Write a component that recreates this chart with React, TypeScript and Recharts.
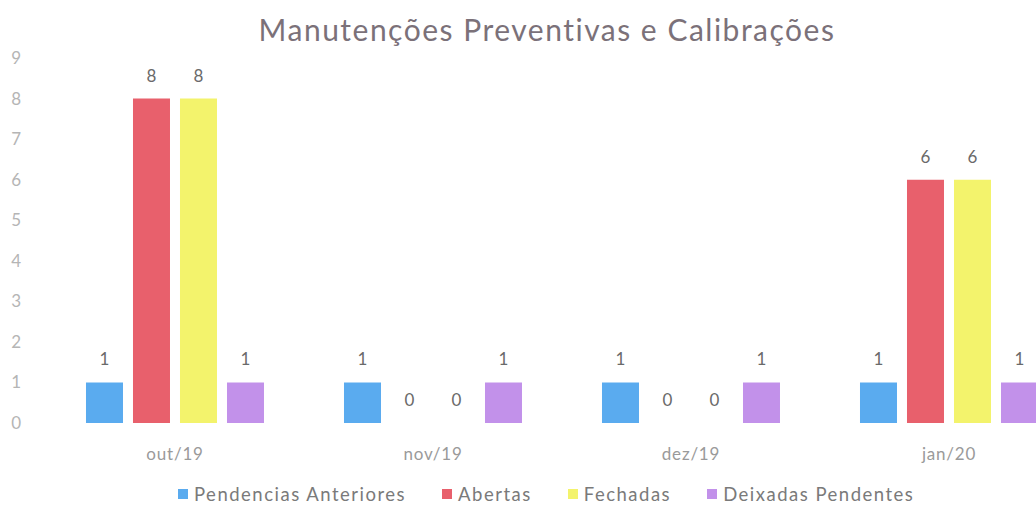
import React from 'react';
import { BarChart, Bar, XAxis, YAxis, Legend, LabelList } from 'recharts';

const months = ['out/19', 'nov/19', 'dez/19', 'jan/20'];
const pendenciasAnteriores = [1, 1, 1, 1];
const abertas = [8, 0, 0, 6];
const fechadas = [8, 0, 0, 6];
const deixadasPendentes = [1, 1, 1, 1];
const yTicks = [0, 1, 2, 3, 4, 5, 6, 7, 8, 9];

const data = months.map((m, i) => ({
  month: m,
  pendencias: pendenciasAnteriores[i],
  abertas: abertas[i],
  fechadas: fechadas[i],
  deixadas: deixadasPendentes[i],
}));

const series = [
  { key: 'pendencias', name: 'Pendencias Anteriores', color: '#5aabef' },
  { key: 'abertas', name: 'Abertas', color: '#e8606c' },
  { key: 'fechadas', name: 'Fechadas', color: '#f3f36c' },
  { key: 'deixadas', name: 'Deixadas Pendentes', color: '#c291ea' },
];

const font = 'Lato, "Open Sans", sans-serif';

// legend drawn by hand so the spacing matches the Excel original
const LegendContent = () => (
  <div style={{ display: 'flex', justifyContent: 'flex-start', paddingLeft: 178, paddingTop: 21, fontFamily: font, fontSize: 18.5, letterSpacing: 1.5, lineHeight: '20px', color: '#7a7a7a' }}>
    {series.map((s) => (
      <div key={s.key} style={{ display: 'flex', alignItems: 'center', marginRight: 36 }}>
        <span style={{ display: 'inline-block', width: 10, height: 10, background: s.color, marginRight: 6 }} />
        <span>{s.name}</span>
      </div>
    ))}
  </div>
);

// zero-value bars get a tiny height so their "0" label is still drawn
const zeroSize = (value: number) => (value === 0 ? 0.01 : 0);

export default function App() {
  return (
    <div style={{ position: 'absolute', left: 0, top: 0, width: 1036, height: 505, overflow: 'hidden', background: '#ffffff' }}>
      <div style={{ position: 'absolute', left: 0, top: 11, width: 1094, textAlign: 'center', fontFamily: font, fontSize: 30, color: '#7b7179', letterSpacing: 1.5 }}>
        Manutenções Preventivas e Calibrações
      </div>
      <BarChart
        width={1100}
        height={505}
        data={data}
        margin={{ top: 58, right: 22, bottom: 0, left: 0 }}
        barCategoryGap="15.5%"
        barGap={10}
      >
        <XAxis
          dataKey="month"
          axisLine={false}
          tickLine={false}
          tickSize={0}
          tickMargin={25}
          height={40}
          tick={{ fill: '#9a9a9a', fontSize: 17, fontFamily: font, letterSpacing: 0.8 }}
        />
        <YAxis
          domain={[0, 9]}
          ticks={yTicks}
          axisLine={false}
          tickLine={false}
          tickSize={0}
          tickMargin={25}
          width={46}
          tick={{ fill: '#b5b5b5', fontSize: 17, fontFamily: font }}
        />
        <Legend verticalAlign="bottom" height={42} content={<LegendContent />} />
        {series.map((s) => (
          <Bar key={s.key} dataKey={s.key} name={s.name} fill={s.color} minPointSize={zeroSize} isAnimationActive={false}>
            <LabelList dataKey={s.key} position="top" offset={17} fill="#6a6a6a" fontSize={17} fontFamily={font} />
          </Bar>
        ))}
      </BarChart>
    </div>
  );
}
